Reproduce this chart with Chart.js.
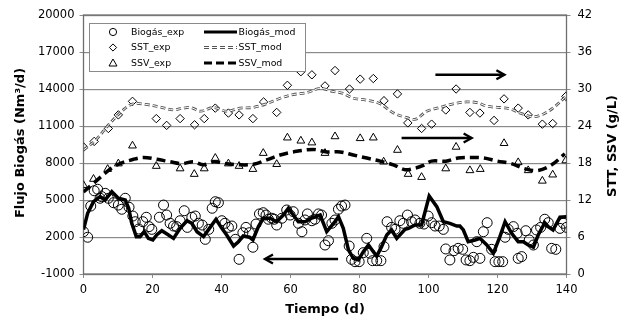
<!DOCTYPE html>
<html>
<head>
<meta charset="utf-8">
<script src="https://cdn.jsdelivr.net/npm/chart.js@4.4.1/dist/chart.umd.min.js"></script>
<style>
  html, body { margin: 0; padding: 0; background: #fff; }
</style>
</head>
<body>
<canvas id="chart" width="623" height="320"></canvas>
<script>
// Biogás experimental (Nm3/d)
const biogasExpDays = [0,1.2,2.1,3.1,4.1,4.8,5.3,6.3,7.2,8.7,10.1,11.1,12.1,13.2,14.3,15,16,17.2,18.2,19,19.8,22,23.2,24.1,25.1,26.1,27,28,29.2,30.1,31.4,32.4,33.3,34.4,35.3,36.3,37.3,38.2,39.1,40.1,41,42,43,44,45.1,46.2,47.1,48.1,49.1,50,51,52.1,52.9,53.6,54.6,55.3,56,57.5,58.9,59.9,60.8,62.3,63.3,64.2,64.9,66.2,67.1,68.1,69,70,71,72,72.9,73.9,74.8,75.8,77,77.7,78.7,79.9,81.1,82.1,83,83.8,85,86.2,87.1,88,89.3,90.3,91.7,92.7,93.9,95.1,96.1,97.5,98.7,99.9,100.9,101.9,103.1,104.3,105,106.2,107.4,108.6,109.9,110.9,112,113,114,114.9,115.9,117,118.3,119.3,120.4,121.5,122.2,123.1,124.6,125.7,126,127,128.2,129.2,130.4,131.3,132.5,133.7,134.7,135.7,136.9,138.1,139.1,140];
const biogasExpValues = [2430,1980,4510,5750,5870,5140,5270,5540,5140,4780,4590,4250,5140,4410,3700,3240,2650,3240,3600,2840,2620,3600,4590,3780,3110,2890,2840,3320,4130,2780,3600,3700,3110,2970,1810,2620,4330,4860,4780,3320,3110,2780,2890,1810,190,2350,2780,2350,1170,3050,3870,3970,3780,3440,3520,3440,2970,3520,4190,3780,4050,3110,2430,3380,3870,3320,3440,3870,3780,1350,1700,3110,3380,4250,4510,4590,1270,190,0,0,730,1890,680,80,80,80,1220,3240,2780,2620,3320,3110,3780,3240,3380,3110,3050,3700,3160,2890,2890,2620,1030,140,890,1080,1000,140,80,350,1620,270,2430,3160,1000,0,0,0,1980,2620,2840,2300,270,410,2510,1760,1350,2570,2780,3440,3160,1080,1000,2700,3110,2780];

// Biogás model
const biogasModDays = [0,1.2,2.9,4.8,6.3,8.2,10.1,12.1,13.1,14,15.3,16.4,17.6,18.8,20.1,21.2,22.7,24.2,26.1,28,30,31.4,32.9,34.8,36.7,38.4,40.1,41.5,43.5,44.9,46.3,48.1,49.1,50.7,52.1,54.1,56,57.9,59.4,60.8,62.3,64.2,66.4,68.6,70.5,72.9,73.9,75.3,76.8,78.2,79.7,81.1,82.6,84,85,86.4,87.9,89.3,90.8,93.2,94.2,96.1,98,100.2,102.4,104.3,106.2,108.2,109.1,110.1,111.5,113.5,114.9,116.9,118.8,120.7,122.2,124.1,126,127.5,128.9,130.4,131.8,133.7,134.7,136.1,138.1,140];
const biogasModValues = [2600,3920,4860,5270,5000,5670,5140,5000,4330,3110,2030,2030,2430,1890,1760,2160,2510,2240,1890,2700,3320,3110,2430,2030,2780,3440,2700,2160,1270,1620,2080,1980,1760,2840,3520,3520,3240,3780,4330,3780,3240,3240,3560,3780,2430,3240,3650,2700,950,270,140,810,1350,810,460,1220,2160,2570,1890,2620,2700,2970,2970,5320,4460,3240,3110,2890,2890,2570,1620,1760,1890,1350,680,2030,3240,2300,1620,1620,1350,1170,2160,3160,2840,2570,3600,3650];

// SST experimental / model (g/L)
const sstExpDays = [0,3.1,7.2,10.1,14.2,21.1,24.1,28,32.2,35,38.2,42,45.1,49.1,52.2,56,59.1,63,66.2,70,72.9,77.1,80.2,84,87.1,91,94,98,100.9,105,108,112,114.9,119,121.9,126,128.9,133,136,139.8];
const sstExpValues = [20.6,21.5,23.6,25.8,28.0,25.2,24.1,25.2,24.2,25.2,26.9,26.1,25.8,25.2,27.9,26.2,30.6,32.8,32.3,30.5,33.0,30.0,31.6,31.7,28.1,29.2,24.5,23.6,24.3,26.6,30.0,26.2,26.1,24.9,28.4,26.9,25.8,24.3,24.4,28.8];
const sstModDays = [0,3.5,7.6,11.5,14.4,18,22,26,28,31,34,37.6,41.5,45.4,49,53,57,60.8,64.7,68.6,72.3,75.2,78.2,82,86,89.9,93.5,96.3,99.5,103.3,107.2,111,114,117,120.5,123.5,127,130.4,133.5,136.5,140];
const sstModValues = [20.1,21.7,24.4,26.6,27.6,27.5,27.1,26.6,26.8,27.0,26.4,27.0,26.4,26.9,27.0,27.6,28.5,29.1,29.4,30.1,29.6,29.3,28.5,28.2,27.6,26.1,25.4,25.1,26.4,27.0,27.6,27.9,27.8,27.2,27.0,26.8,26.0,25.5,26.0,27.1,28.9];

// SSV experimental / model (g/L)
const ssvExpDays = [0,2.9,7,10.1,14.2,21.1,28,32.1,35,38.2,42,45.1,49.1,52.1,56,59.1,63,66.2,70,72.9,80.2,84,87,91,94.1,98,105,108,112,115,121.9,126,128.9,133,136,139.8];
const ssvExpValues = [14.4,15.4,17.0,17.9,20.8,17.5,17.1,16.2,17.1,18.8,17.9,17.5,17.0,19.6,17.8,22.1,21.6,21.3,19.6,22.3,22.0,22.1,18.2,20.1,16.2,15.7,17.1,20.6,16.8,17.0,21.2,18.1,16.8,15.1,16.1,18.4];
const ssvModDays = [0,2.9,6.8,9.7,14.5,17.4,21.3,25.1,28.5,31.9,34.8,37.7,41.5,45.4,49.3,53.1,57,60.8,66.6,70.5,74.4,78.2,82.1,86,89.8,93.2,96.3,98.5,100.9,105,108.5,112.3,116,120,124,128.3,131.8,135.7,139.5];
const ssvModValues = [13.3,14.7,16.6,17.7,18.6,18.9,18.6,18.2,17.9,18.2,17.7,18.2,17.9,17.7,17.8,18.5,19.3,19.8,20.2,19.8,19.8,19.3,18.8,18.3,17.7,16.9,17.2,17.6,18.3,18.3,18.8,18.9,18.8,18.3,17.9,17.0,16.8,17.7,19.5];

// axis ticks
const xTicks = [0, 20, 40, 60, 80, 100, 120, 140];
const leftTicks = [-1000, 2000, 5000, 8000, 11000, 14000, 17000, 20000];
const rightTicks = [0, 6, 12, 18, 24, 30, 36, 42];

// arrows (data units): from -> to, on which axis
const arrowFrom = [102, 92.2, 73.8];
const arrowTo = [122, 112.5, 52.6];
const arrowY = [32.3, 22.05, 216];
const arrowAxis = ['y1', 'y1', 'y'];

const toPoints = (xs, ys) => xs.map((x, i) => ({ x: x, y: ys[i] }));

const FONT = "'DejaVu Sans', sans-serif";

const extras = {
  id: 'extras',
  beforeDatasetsDraw(chart) {
    const { ctx, chartArea: a, scales } = chart;
    ctx.save();
    // horizontal gridlines, drawn as thin filled bands
    ctx.fillStyle = '#8a8a8a';
    leftTicks.forEach(v => {
      const y = Math.round(scales.y.getPixelForValue(v));
      ctx.fillRect(a.left, y, a.right - a.left, 1.2);
    });
    // plot frame
    ctx.strokeStyle = '#6e6e6e';
    ctx.lineWidth = 1.3;
    ctx.strokeRect(a.left, a.top, a.right - a.left, a.bottom - a.top);
    ctx.restore();
  },
  afterDraw(chart) {
    const { ctx, chartArea: a, scales } = chart;
    ctx.save();

    // arrows
    ctx.strokeStyle = '#000';
    ctx.lineWidth = 2.4;
    ctx.lineCap = 'butt';
    for (let i = 0; i < arrowFrom.length; i++) {
      const x0 = scales.x.getPixelForValue(arrowFrom[i]);
      const x1 = scales.x.getPixelForValue(arrowTo[i]);
      const y = scales[arrowAxis[i]].getPixelForValue(arrowY[i]);
      const d = x1 > x0 ? 1 : -1;
      ctx.beginPath();
      ctx.moveTo(x0, y);
      ctx.lineTo(x1 - d * 1, y);
      ctx.stroke();
      ctx.beginPath();
      ctx.moveTo(x1 - d * 8, y - 4.5);
      ctx.lineTo(x1, y);
      ctx.lineTo(x1 - d * 8, y + 4.5);
      ctx.stroke();
    }

    // legend box
    const lx = 90, ly = 24, lw = 215, lh = 47;
    ctx.fillStyle = '#8a8a8a';
    ctx.fillRect(lx - 1, ly - 1, lw + 2, lh + 2);
    ctx.fillStyle = '#fff';
    ctx.fillRect(lx, ly, lw, lh);

    const rows = [32, 47.5, 63];
    ctx.font = '9.4px ' + FONT;
    ctx.fillStyle = '#000';
    ctx.textBaseline = 'middle';
    ctx.textAlign = 'left';
    const expNames = ['Biogás_exp', 'SST_exp', 'SSV_exp'];
    const modNames = ['Biogás_mod', 'SST_mod', 'SSV_mod'];
    const mx = 113;
    ctx.strokeStyle = '#000';
    ctx.lineWidth = 1;
    ctx.beginPath(); ctx.arc(mx, rows[0], 3.6, 0, Math.PI * 2); ctx.stroke();
    ctx.beginPath();
    ctx.moveTo(mx, rows[1] - 3.6); ctx.lineTo(mx + 3.6, rows[1]); ctx.lineTo(mx, rows[1] + 3.6); ctx.lineTo(mx - 3.6, rows[1]); ctx.closePath(); ctx.stroke();
    ctx.beginPath();
    ctx.moveTo(mx, rows[2] - 4); ctx.lineTo(mx + 4, rows[2] + 3); ctx.lineTo(mx - 4, rows[2] + 3); ctx.closePath(); ctx.stroke();
    expNames.forEach((n, i) => ctx.fillText(n, 131, rows[i] + 0.5));

    const sx0 = 204, sx1 = 237;
    ctx.lineWidth = 3.2;
    ctx.beginPath(); ctx.moveTo(sx0, rows[0]); ctx.lineTo(sx1, rows[0]); ctx.stroke();
    ctx.setLineDash([5, 3]);
    ctx.strokeStyle = '#555'; ctx.lineWidth = 2.8;
    ctx.beginPath(); ctx.moveTo(sx0, rows[1]); ctx.lineTo(sx1, rows[1]); ctx.stroke();
    ctx.strokeStyle = '#fff'; ctx.lineWidth = 1;
    ctx.beginPath(); ctx.moveTo(sx0, rows[1]); ctx.lineTo(sx1, rows[1]); ctx.stroke();
    ctx.setLineDash([8, 4]);
    ctx.strokeStyle = '#000'; ctx.lineWidth = 3.2;
    ctx.beginPath(); ctx.moveTo(sx0, rows[2]); ctx.lineTo(sx1, rows[2]); ctx.stroke();
    ctx.setLineDash([]);
    modNames.forEach((n, i) => ctx.fillText(n, 238.5, rows[i] + 0.5));

    // axis titles
    ctx.font = 'bold 13px ' + FONT;
    ctx.textAlign = 'center';
    ctx.textBaseline = 'middle';
    ctx.fillText('Tiempo (d)', (a.left + a.right) / 2, 310);
    ctx.save();
    ctx.translate(21, 143);
    ctx.rotate(-Math.PI / 2);
    ctx.fillText('Flujo Biogás (Nm³/d)', 0, 0);
    ctx.restore();
    ctx.save();
    ctx.translate(613, 146);
    ctx.rotate(-Math.PI / 2);
    ctx.fillText('STT, SSV (g/L)', 0, 0);
    ctx.restore();

    ctx.restore();
  }
};

const markerStyle = (style, r) => ({
  showLine: false,
  pointStyle: style,
  pointRadius: r,
  pointHoverRadius: r,
  pointBorderColor: '#000',
  pointBackgroundColor: 'rgba(0,0,0,0)',
  pointBorderWidth: 1,
  order: 2
});

new Chart(document.getElementById('chart'), {
  type: 'scatter',
  data: {
    datasets: [
      Object.assign({ label: 'Biogás_exp', data: toPoints(biogasExpDays, biogasExpValues), yAxisID: 'y' }, markerStyle('circle', 5)),
      Object.assign({ label: 'SST_exp', data: toPoints(sstExpDays, sstExpValues), yAxisID: 'y1' }, markerStyle('rectRot', 4.2)),
      Object.assign({ label: 'SSV_exp', data: toPoints(ssvExpDays, ssvExpValues), yAxisID: 'y1' }, markerStyle('triangle', 4.5)),
      {
        label: 'Biogás_mod', data: toPoints(biogasModDays, biogasModValues), yAxisID: 'y',
        showLine: true, pointRadius: 0, borderColor: '#000', borderWidth: 3.5, tension: 0, order: 0
      },
      {
        label: 'SST_mod', data: toPoints(sstModDays, sstModValues), yAxisID: 'y1',
        showLine: true, pointRadius: 0, borderColor: '#555', borderWidth: 2.8, borderDash: [5, 3], tension: 0.35, order: 1
      },
      {
        label: 'SST_mod_inner', data: toPoints(sstModDays, sstModValues), yAxisID: 'y1',
        showLine: true, pointRadius: 0, borderColor: '#fff', borderWidth: 1, borderDash: [5, 3], tension: 0.35, order: 0.5
      },
      {
        label: 'SSV_mod', data: toPoints(ssvModDays, ssvModValues), yAxisID: 'y1',
        showLine: true, pointRadius: 0, borderColor: '#000', borderWidth: 3.5, borderDash: [9, 5], tension: 0.35, order: 0
      }
    ]
  },
  options: {
    responsive: false,
    animation: false,
    layout: { padding: { top: 15, left: 0, right: 0, bottom: 0 } },
    plugins: { legend: { display: false }, tooltip: { enabled: false } },
    scales: {
      x: {
        type: 'linear', min: 0, max: 140,
        afterBuildTicks: s => { s.ticks = xTicks.map(v => ({ value: v })); },
        afterFit: s => { s.height = 46; },
        ticks: { color: '#000', font: { family: FONT, size: 11.5 }, padding: 5, maxRotation: 0 },
        grid: { drawOnChartArea: false, tickLength: 4, color: '#8c8c8c' },
        border: { color: '#8c8c8c' }
      },
      y: {
        position: 'left', min: -1000, max: 20000,
        afterBuildTicks: s => { s.ticks = leftTicks.map(v => ({ value: v })); },
        afterFit: s => { s.width = 83.5; },
        ticks: { color: '#000', font: { family: FONT, size: 11.5 }, padding: 5, callback: v => String(v) },
        grid: { drawOnChartArea: false, tickLength: 4, color: '#8c8c8c' },
        border: { color: '#8c8c8c' }
      },
      y1: {
        position: 'right', min: 0, max: 42,
        afterBuildTicks: s => { s.ticks = rightTicks.map(v => ({ value: v })); },
        afterFit: s => { s.width = 56.5; },
        ticks: { color: '#000', font: { family: FONT, size: 11.5 }, padding: 7, callback: v => String(v) },
        grid: { drawOnChartArea: false, tickLength: 4, color: '#8c8c8c' },
        border: { color: '#8c8c8c' }
      }
    }
  },
  plugins: [extras]
});
</script>
</body>
</html>
